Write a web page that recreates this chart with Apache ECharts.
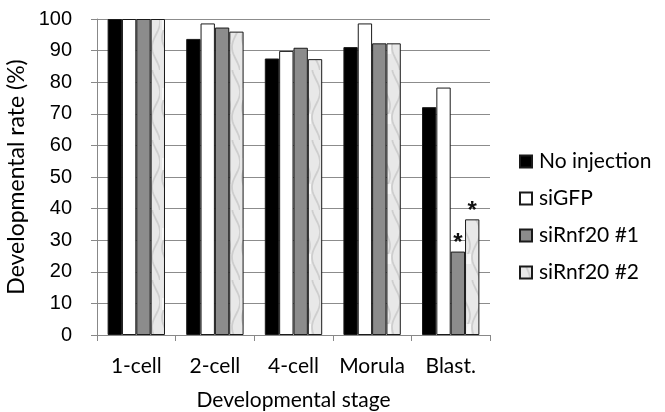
<!DOCTYPE html>
<html><head><meta charset="utf-8">
<script src="https://cdn.jsdelivr.net/npm/echarts@6/dist/echarts.min.js"></script>
<style>html,body{margin:0;padding:0;background:#fff}#c{width:665px;height:412px}</style>
</head><body><div id="c"></div>
<script>
var categories = ['1-cell', '2-cell', '4-cell', 'Morula', 'Blast.'];
var seriesNames = ['No injection', 'siGFP', 'siRnf20 #1', 'siRnf20 #2'];
var noInjection = [100, 93.7, 87.5, 91.1, 72.1];
var siGFP = [100, 98.6, 89.9, 98.6, 78.3];
var siRnf20_1 = [100, 97.3, 90.9, 92.3, 26.4];
var siRnf20_2 = [100, 96.0, 87.3, 92.3, 36.6];
var starsRnf20_1 = [false, false, false, false, true];
var starsRnf20_2 = [false, false, false, false, true];
var yTicks = [0, 10, 20, 30, 40, 50, 60, 70, 80, 90, 100];

// marble-like texture for siRnf20 #2
function makePattern() {
  var cv = document.createElement('canvas');
  cv.width = 40; cv.height = 70;
  var ctx = cv.getContext('2d');
  ctx.fillStyle = '#e8e8e8';
  ctx.fillRect(0, 0, 40, 70);
  ctx.strokeStyle = 'rgba(175,175,175,0.45)';
  ctx.lineWidth = 1.8;
  for (var k = 0; k < 4; k++) {
    ctx.beginPath();
    for (var y = 0; y <= 70; y += 2) {
      var x = 6 + k * 10 + 4 * Math.sin(y / 8 + k * 1.7);
      if (y === 0) ctx.moveTo(x, y); else ctx.lineTo(x, y);
    }
    ctx.stroke();
  }
  ctx.fillStyle = 'rgba(250,250,250,0.8)';
  ctx.fillRect(2, 18, 6, 12);
  ctx.fillRect(24, 44, 7, 10);
  ctx.fillStyle = '#a0a0a0';
  ctx.fillRect(18, 36, 2, 2);
  return cv;
}
var pattern = { image: makePattern(), repeat: 'repeat' };

var chart = echarts.init(document.getElementById('c'), null, { renderer: 'canvas' });
var calibri = 'Lato, "Open Sans", sans-serif';
function mk(name, data, color, stars) {
  return {
    name: name, type: 'bar', barGap: '0%', barCategoryGap: '27%',
    itemStyle: { color: color, borderColor: '#1a1a1a', borderWidth: 1 },
    data: data.map(function (v, i) {
      var d = { value: v };
      if (stars && stars[i]) {
        d.label = { show: true, position: 'top', formatter: '*', distance: -4,
          fontSize: 24, fontWeight: 'bold', fontFamily: 'Liberation Sans, Arial', color: '#111' };
      }
      return d;
    })
  };
}
chart.setOption({
  animation: false,
  backgroundColor: '#fff',
  grid: { left: 97, right: 175, top: 19, bottom: 77, containLabel: false, outerBoundsMode: 'none' },
  legend: {
    orient: 'vertical', left: 514, top: 146, itemWidth: 12, itemHeight: 12, itemGap: 16,
    icon: 'rect',
    textStyle: { fontSize: 21, fontFamily: calibri, color: '#000', padding: [0, 0, 0, 2] },
    data: seriesNames
  },
  xAxis: {
    type: 'category', data: categories,
    name: 'Developmental stage', nameLocation: 'middle', nameGap: 55,
    nameTextStyle: { fontSize: 21, fontFamily: calibri, color: '#000' },
    axisLine: { lineStyle: { color: '#888', width: 1 } },
    axisTick: { show: true, alignWithLabel: false, length: 6, lineStyle: { color: '#888' } },
    axisLabel: { interval: 0, fontSize: 21, fontFamily: calibri, color: '#000', margin: 21 }
  },
  yAxis: {
    type: 'value', min: 0, max: 100, interval: 10,
    name: 'Developmental rate (%)', nameLocation: 'middle', nameGap: 64, nameRotate: 90,
    nameTextStyle: { fontSize: 23, fontFamily: calibri, color: '#000' },
    axisLine: { show: true, lineStyle: { color: '#888' } },
    axisTick: { show: true, length: 6, inside: false, lineStyle: { color: '#888' } },
    axisLabel: { fontSize: 20, fontFamily: 'Liberation Sans, Arial', color: '#000', margin: 25,
      formatter: function (v) { return yTicks.indexOf(v) >= 0 ? String(v) : ''; } },
    splitLine: { show: true, lineStyle: { color: '#8c8c8c', width: 1 } }
  },
  series: [
    mk(seriesNames[0], noInjection, '#000000'),
    mk(seriesNames[1], siGFP, '#ffffff'),
    mk(seriesNames[2], siRnf20_1, '#8c8c8c', starsRnf20_1),
    mk(seriesNames[3], siRnf20_2, pattern, starsRnf20_2)
  ]
});
</script></body></html>
